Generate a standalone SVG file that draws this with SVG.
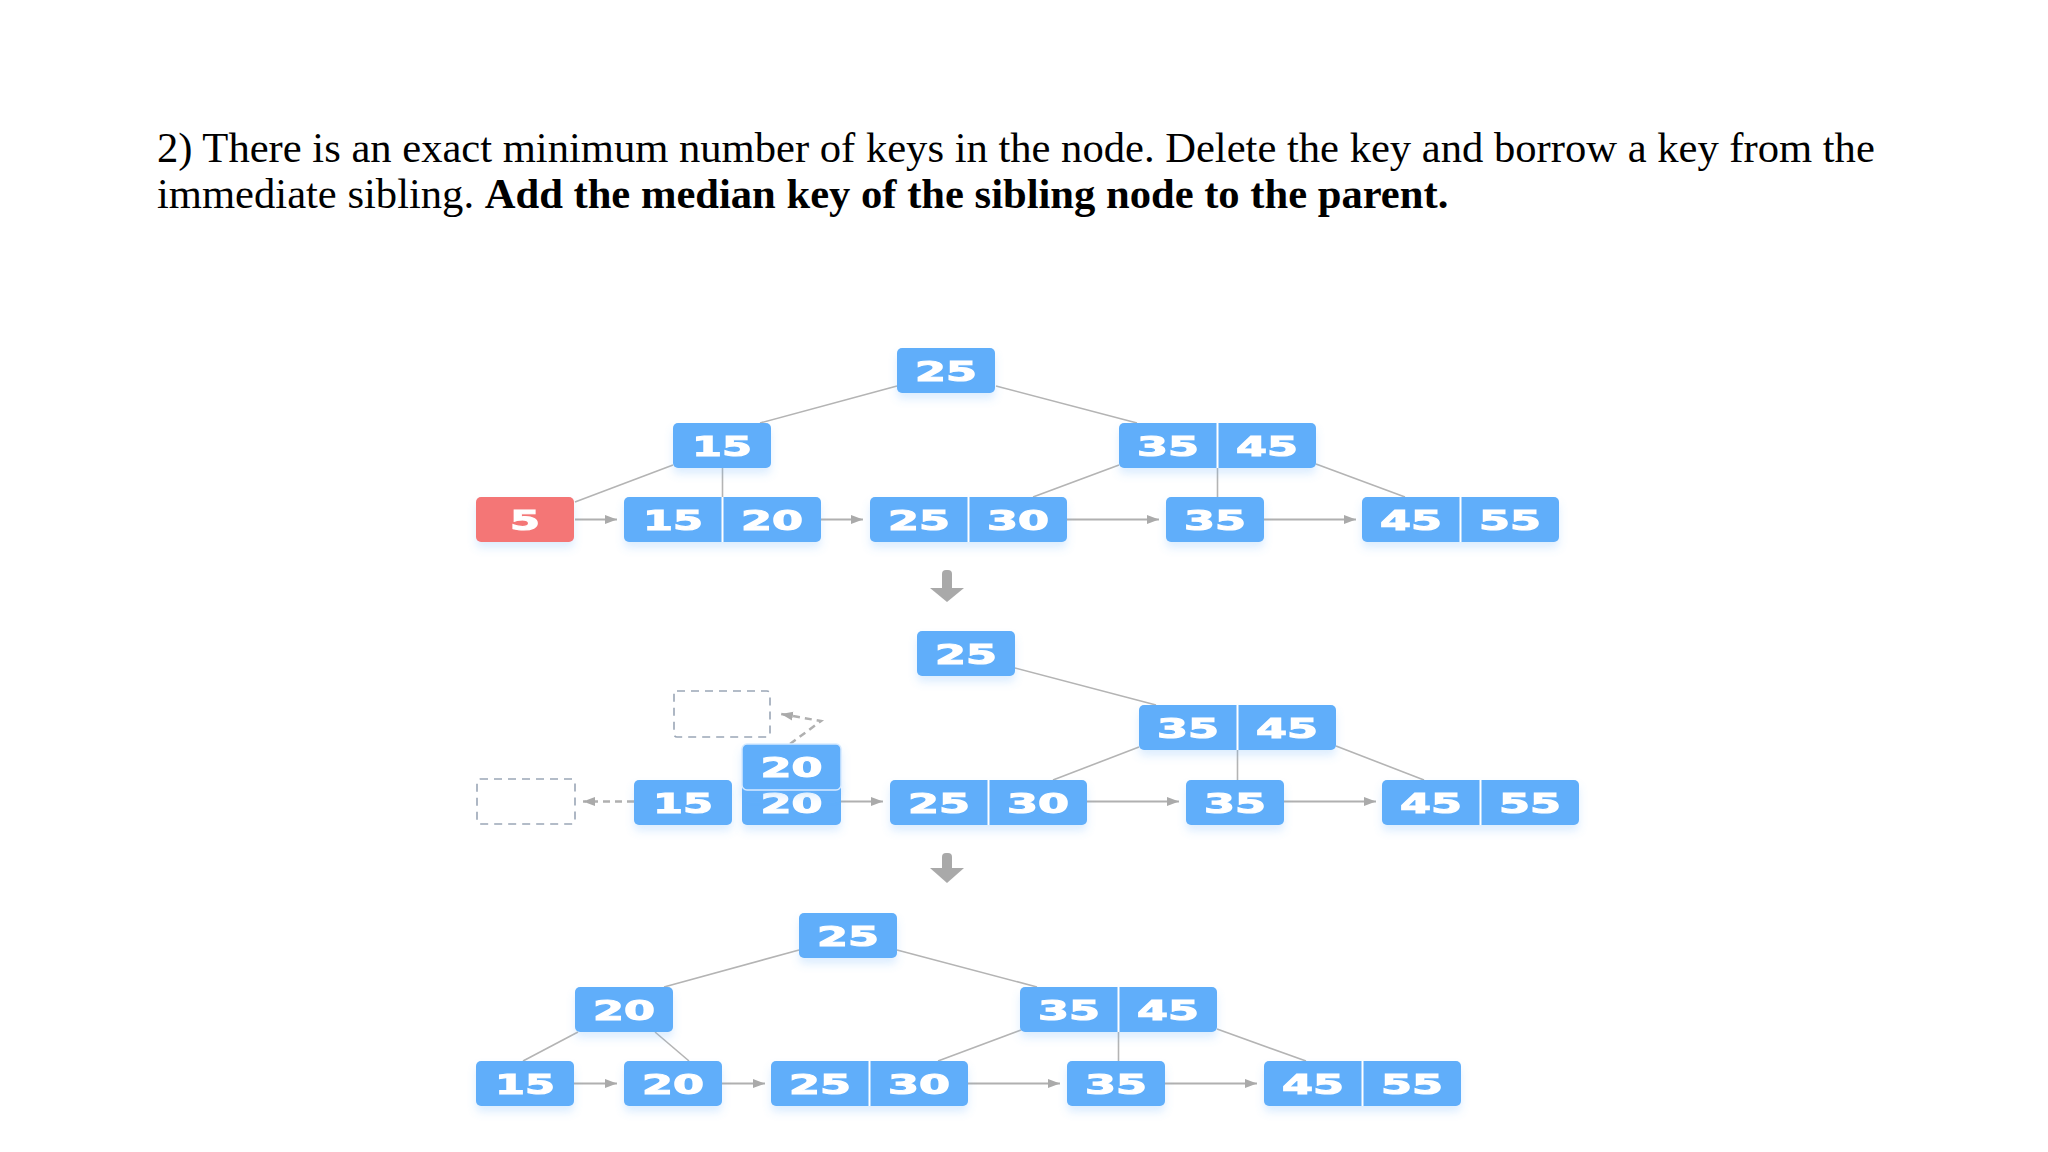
<svg xmlns="http://www.w3.org/2000/svg" width="2048" height="1152" viewBox="0 0 2048 1152">
<defs>
<style>
.title{font-family:"Liberation Serif","Times New Roman",serif;font-size:42.6px;fill:#000}
.b{font-weight:bold}
.k{fill:#60aefa}
.r{fill:#f47676}
.t{font-family:"DejaVu Sans",sans-serif;font-weight:bold;font-size:27px;fill:#fff;stroke:#fff;stroke-width:1.1;text-anchor:middle}
.dv{stroke:#fff;stroke-width:2}
.ln{stroke:#b4b4b4;stroke-width:1.6;fill:none}
.ar{stroke:#b0b0b0;stroke-width:2;fill:none;marker-end:url(#ah)}
.da{stroke:#b0b0b0;stroke-width:2.5;fill:none;stroke-dasharray:7 5;marker-end:url(#ah)}
.ds{fill:none;stroke:#9aa6b6;stroke-width:1.6;stroke-dasharray:8 6}
.step{fill:#a9a9a9}
</style>
<marker id="ah" markerUnits="userSpaceOnUse" markerWidth="13" markerHeight="10" refX="12" refY="5" orient="auto">
<path d="M0,0.5 L12,5 L0,9.5 z" fill="#aaaaaa"/>
</marker>
<filter id="sh" x="-20%" y="-30%" width="140%" height="180%">
<feDropShadow dx="0" dy="6" stdDeviation="4" flood-color="#60aefa" flood-opacity="0.22"/>
</filter>
</defs>
<rect width="2048" height="1152" fill="#fff"/>

<g id="caption">
<text class="title" x="157" y="162">2) There is an exact minimum number of keys in the node. Delete the key and borrow a key from the</text>
<text class="title" x="157" y="208">immediate sibling. <tspan class="b">Add the median key of the sibling node to the parent.</tspan></text>
</g>

<g id="connectors">
<!-- panel 1 -->
<line class="ln" x1="897" y1="386" x2="760" y2="423"/>
<line class="ln" x1="996" y1="386" x2="1137" y2="423"/>
<line class="ln" x1="673" y1="465" x2="575" y2="502"/>
<line class="ln" x1="722.5" y1="468" x2="722.5" y2="497"/>
<line class="ln" x1="1119" y1="465" x2="1033" y2="497"/>
<line class="ln" x1="1217.5" y1="468" x2="1217.5" y2="497"/>
<line class="ln" x1="1316" y1="464" x2="1405" y2="497"/>
<line class="ar" x1="575" y1="519.5" x2="617" y2="519.5"/>
<line class="ar" x1="821" y1="519.5" x2="863" y2="519.5"/>
<line class="ar" x1="1067" y1="519.5" x2="1159" y2="519.5"/>
<line class="ar" x1="1264" y1="519.5" x2="1356" y2="519.5"/>
<!-- panel 2 -->
<line class="ln" x1="1015" y1="668" x2="1156" y2="705"/>
<line class="ln" x1="1139" y1="747" x2="1053" y2="780"/>
<line class="ln" x1="1237.5" y1="750" x2="1237.5" y2="780"/>
<line class="ln" x1="1336" y1="746" x2="1424" y2="780"/>
<line class="da" x1="634" y1="801.5" x2="583" y2="801.5"/>
<polyline class="da" points="790,744 821,721 781,714"/>
<line class="ar" x1="841" y1="801.5" x2="883" y2="801.5"/>
<line class="ar" x1="1087" y1="801.5" x2="1179" y2="801.5"/>
<line class="ar" x1="1284" y1="801.5" x2="1376" y2="801.5"/>
<!-- panel 3 -->
<line class="ln" x1="799" y1="950" x2="664" y2="987"/>
<line class="ln" x1="897" y1="950" x2="1037" y2="987"/>
<line class="ln" x1="578" y1="1032" x2="523" y2="1061"/>
<line class="ln" x1="655" y1="1032" x2="689" y2="1061"/>
<line class="ln" x1="1021" y1="1030" x2="938" y2="1061"/>
<line class="ln" x1="1118.5" y1="1032" x2="1118.5" y2="1061"/>
<line class="ln" x1="1217" y1="1029" x2="1306" y2="1061"/>
<line class="ar" x1="574" y1="1083.5" x2="617" y2="1083.5"/>
<line class="ar" x1="722" y1="1083.5" x2="765" y2="1083.5"/>
<line class="ar" x1="968" y1="1083.5" x2="1060" y2="1083.5"/>
<line class="ar" x1="1165" y1="1083.5" x2="1257" y2="1083.5"/>
</g>

<g id="steps">
<rect class="step" x="942" y="570" width="10" height="22" rx="4"/>
<polygon class="step" points="930,588 964,588 947,602"/>
<rect class="step" x="942" y="853" width="10" height="20" rx="4"/>
<polygon class="step" points="930,868 964,868 947,883"/>
</g>

<!-- panel 1 nodes -->
<g id="p1-root" filter="url(#sh)"><rect class="k" x="897" y="348" width="98" height="45" rx="5"/><text class="t" x="946" y="380.5" textLength="62" lengthAdjust="spacingAndGlyphs">25</text></g>
<g id="p1-n15" filter="url(#sh)"><rect class="k" x="673" y="423" width="98" height="45" rx="5"/><text class="t" x="722" y="455.5" textLength="60" lengthAdjust="spacingAndGlyphs">15</text></g>
<g id="p1-n3545" filter="url(#sh)"><rect class="k" x="1119" y="423" width="197" height="45" rx="5"/><line class="dv" x1="1217.5" y1="423" x2="1217.5" y2="468"/><text class="t" x="1168" y="455.5" textLength="62" lengthAdjust="spacingAndGlyphs">35</text><text class="t" x="1267" y="455.5" textLength="62" lengthAdjust="spacingAndGlyphs">45</text></g>
<g id="p1-n5" filter="url(#sh)"><rect class="r" x="476" y="497" width="98" height="45" rx="5"/><text class="t" x="525" y="529.5" textLength="30" lengthAdjust="spacingAndGlyphs">5</text></g>
<g id="p1-n1520" filter="url(#sh)"><rect class="k" x="624" y="497" width="197" height="45" rx="5"/><line class="dv" x1="722.5" y1="497" x2="722.5" y2="542"/><text class="t" x="673" y="529.5" textLength="60" lengthAdjust="spacingAndGlyphs">15</text><text class="t" x="772" y="529.5" textLength="62" lengthAdjust="spacingAndGlyphs">20</text></g>
<g id="p1-n2530" filter="url(#sh)"><rect class="k" x="870" y="497" width="197" height="45" rx="5"/><line class="dv" x1="968.5" y1="497" x2="968.5" y2="542"/><text class="t" x="919" y="529.5" textLength="62" lengthAdjust="spacingAndGlyphs">25</text><text class="t" x="1018" y="529.5" textLength="62" lengthAdjust="spacingAndGlyphs">30</text></g>
<g id="p1-n35" filter="url(#sh)"><rect class="k" x="1166" y="497" width="98" height="45" rx="5"/><text class="t" x="1215" y="529.5" textLength="62" lengthAdjust="spacingAndGlyphs">35</text></g>
<g id="p1-n4555" filter="url(#sh)"><rect class="k" x="1362" y="497" width="197" height="45" rx="5"/><line class="dv" x1="1460.5" y1="497" x2="1460.5" y2="542"/><text class="t" x="1411" y="529.5" textLength="62" lengthAdjust="spacingAndGlyphs">45</text><text class="t" x="1510" y="529.5" textLength="62" lengthAdjust="spacingAndGlyphs">55</text></g>

<!-- panel 2 nodes -->
<g id="p2-root" filter="url(#sh)"><rect class="k" x="917" y="631" width="98" height="45" rx="5"/><text class="t" x="966" y="663.5" textLength="62" lengthAdjust="spacingAndGlyphs">25</text></g>
<g id="p2-n3545" filter="url(#sh)"><rect class="k" x="1139" y="705" width="197" height="45" rx="5"/><line class="dv" x1="1237.5" y1="705" x2="1237.5" y2="750"/><text class="t" x="1188" y="737.5" textLength="62" lengthAdjust="spacingAndGlyphs">35</text><text class="t" x="1287" y="737.5" textLength="62" lengthAdjust="spacingAndGlyphs">45</text></g>
<g id="p2-ghost-left"><rect class="ds" x="477" y="779" width="98" height="45" rx="3"/></g>
<g id="p2-ghost-up"><rect class="ds" x="674" y="691" width="96" height="46" rx="3"/></g>
<g id="p2-n15" filter="url(#sh)"><rect class="k" x="634" y="780" width="98" height="45" rx="5"/><text class="t" x="683" y="812.5" textLength="60" lengthAdjust="spacingAndGlyphs">15</text></g>
<g id="p2-n20" filter="url(#sh)"><rect class="k" x="742" y="780" width="99" height="45" rx="5"/><text class="t" x="791.5" y="812.5" textLength="62" lengthAdjust="spacingAndGlyphs">20</text></g>
<g id="p2-n20-up" filter="url(#sh)"><rect class="k" x="742" y="744" width="99" height="46" rx="5" stroke="#d6eaff" stroke-width="1.5"/><text class="t" x="791.5" y="776.5" textLength="62" lengthAdjust="spacingAndGlyphs">20</text></g>
<g id="p2-n2530" filter="url(#sh)"><rect class="k" x="890" y="780" width="197" height="45" rx="5"/><line class="dv" x1="988.5" y1="780" x2="988.5" y2="825"/><text class="t" x="939" y="812.5" textLength="62" lengthAdjust="spacingAndGlyphs">25</text><text class="t" x="1038" y="812.5" textLength="62" lengthAdjust="spacingAndGlyphs">30</text></g>
<g id="p2-n35" filter="url(#sh)"><rect class="k" x="1186" y="780" width="98" height="45" rx="5"/><text class="t" x="1235" y="812.5" textLength="62" lengthAdjust="spacingAndGlyphs">35</text></g>
<g id="p2-n4555" filter="url(#sh)"><rect class="k" x="1382" y="780" width="197" height="45" rx="5"/><line class="dv" x1="1480.5" y1="780" x2="1480.5" y2="825"/><text class="t" x="1431" y="812.5" textLength="62" lengthAdjust="spacingAndGlyphs">45</text><text class="t" x="1530" y="812.5" textLength="62" lengthAdjust="spacingAndGlyphs">55</text></g>

<!-- panel 3 nodes -->
<g id="p3-root" filter="url(#sh)"><rect class="k" x="799" y="913" width="98" height="45" rx="5"/><text class="t" x="848" y="945.5" textLength="62" lengthAdjust="spacingAndGlyphs">25</text></g>
<g id="p3-n20" filter="url(#sh)"><rect class="k" x="575" y="987" width="98" height="45" rx="5"/><text class="t" x="624" y="1019.5" textLength="62" lengthAdjust="spacingAndGlyphs">20</text></g>
<g id="p3-n3545" filter="url(#sh)"><rect class="k" x="1020" y="987" width="197" height="45" rx="5"/><line class="dv" x1="1118.5" y1="987" x2="1118.5" y2="1032"/><text class="t" x="1069" y="1019.5" textLength="62" lengthAdjust="spacingAndGlyphs">35</text><text class="t" x="1168" y="1019.5" textLength="62" lengthAdjust="spacingAndGlyphs">45</text></g>
<g id="p3-n15" filter="url(#sh)"><rect class="k" x="476" y="1061" width="98" height="45" rx="5"/><text class="t" x="525" y="1093.5" textLength="60" lengthAdjust="spacingAndGlyphs">15</text></g>
<g id="p3-n20leaf" filter="url(#sh)"><rect class="k" x="624" y="1061" width="98" height="45" rx="5"/><text class="t" x="673" y="1093.5" textLength="62" lengthAdjust="spacingAndGlyphs">20</text></g>
<g id="p3-n2530" filter="url(#sh)"><rect class="k" x="771" y="1061" width="197" height="45" rx="5"/><line class="dv" x1="869.5" y1="1061" x2="869.5" y2="1106"/><text class="t" x="820" y="1093.5" textLength="62" lengthAdjust="spacingAndGlyphs">25</text><text class="t" x="919" y="1093.5" textLength="62" lengthAdjust="spacingAndGlyphs">30</text></g>
<g id="p3-n35" filter="url(#sh)"><rect class="k" x="1067" y="1061" width="98" height="45" rx="5"/><text class="t" x="1116" y="1093.5" textLength="62" lengthAdjust="spacingAndGlyphs">35</text></g>
<g id="p3-n4555" filter="url(#sh)"><rect class="k" x="1264" y="1061" width="197" height="45" rx="5"/><line class="dv" x1="1362.5" y1="1061" x2="1362.5" y2="1106"/><text class="t" x="1313" y="1093.5" textLength="62" lengthAdjust="spacingAndGlyphs">45</text><text class="t" x="1412" y="1093.5" textLength="62" lengthAdjust="spacingAndGlyphs">55</text></g>
</svg>
